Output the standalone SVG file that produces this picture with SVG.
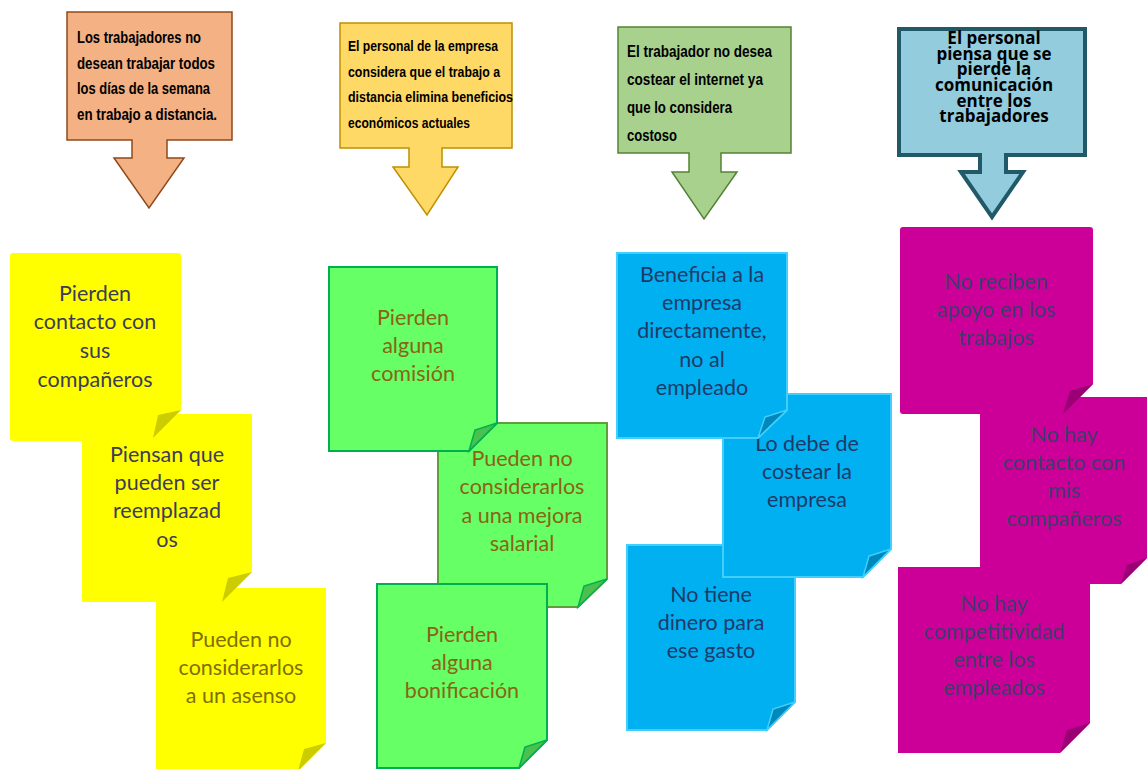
<svg xmlns="http://www.w3.org/2000/svg" width="1147" height="769" viewBox="0 0 1147 769">
<style>
.ct{font-family:"Liberation Sans Narrow","Liberation Sans",Arial,sans-serif;font-weight:bold;fill:#000}
.c4{font-family:"Open Sans","DejaVu Sans",sans-serif;font-weight:bold;font-size:17px;fill:#000;text-anchor:middle}
.nt{font-family:Lato,"Open Sans","Liberation Sans",sans-serif;font-size:21.5px;text-anchor:middle}
.y{fill:#FFFF00}
.yf{fill:#CCCC00}
.g{fill:#66FF66;stroke:#00B050;stroke-width:2}
.g2{fill:#66FF66;stroke:#5E9E3C;stroke-width:2}
.gf{fill:#4CC04C;stroke:#00B050;stroke-width:1.5}
.b{fill:#00B0F0;stroke:#40CFFF;stroke-width:2}
.bf{fill:#0088BB;stroke:#40CFFF;stroke-width:1.5}
.m{fill:#CC0099}
.mf{fill:#990073}
</style>
<rect width="1147" height="769" fill="#FFFFFF"/>

<g id="callout1">
<path d="M67,12 H232 V140 H167 V158 H184 L149,208 L114,158 H132 V140 H67 Z" fill="#F4B183" stroke="#8F4A1C" stroke-width="1.5"/>
<text class="ct" font-size="16"><tspan x="77" y="43" textLength="124" lengthAdjust="spacingAndGlyphs">Los trabajadores no</tspan><tspan x="77" y="69" textLength="138" lengthAdjust="spacingAndGlyphs">desean trabajar todos</tspan><tspan x="77" y="94" textLength="133" lengthAdjust="spacingAndGlyphs">los días de la semana</tspan><tspan x="77" y="120" textLength="140" lengthAdjust="spacingAndGlyphs">en trabajo a distancia.</tspan></text>
</g>

<g id="callout2">
<path d="M340,23 H512 V148 H442 V167 H458 L427,215 L393,167 H409 V148 H340 Z" fill="#FFD966" stroke="#BF9000" stroke-width="1.5"/>
<text class="ct" font-size="15"><tspan x="348" y="51" textLength="150" lengthAdjust="spacingAndGlyphs">El personal de la empresa</tspan><tspan x="348" y="77" textLength="152" lengthAdjust="spacingAndGlyphs">considera que el trabajo a</tspan><tspan x="348" y="102" textLength="165" lengthAdjust="spacingAndGlyphs">distancia elimina beneficios</tspan><tspan x="348" y="128" textLength="122" lengthAdjust="spacingAndGlyphs">económicos actuales</tspan></text>
</g>

<g id="callout3">
<path d="M618,27 H791 V153 H721 V172 H737 L704,219 L672,172 H689 V153 H618 Z" fill="#A9D18E" stroke="#548235" stroke-width="1.5"/>
<text class="ct" font-size="16"><tspan x="627" y="57" textLength="145" lengthAdjust="spacingAndGlyphs">El trabajador  no desea</tspan><tspan x="627" y="85" textLength="136" lengthAdjust="spacingAndGlyphs">costear el internet ya</tspan><tspan x="627" y="113" textLength="105" lengthAdjust="spacingAndGlyphs">que lo considera</tspan><tspan x="627" y="141" textLength="50" lengthAdjust="spacingAndGlyphs">costoso</tspan></text>
</g>

<g id="callout4">
<path d="M899,29 H1085 V155 H1006 V172 H1023 L992,217 L961,172 H980 V155 H899 Z" fill="#93CDDD" stroke="#215968" stroke-width="4"/>
<text class="c4"><tspan x="994" y="44">El personal</tspan><tspan x="994" y="59.5">piensa que se</tspan><tspan x="994" y="75">pierde la</tspan><tspan x="994" y="91">comunicación</tspan><tspan x="994" y="106.5">entre los</tspan><tspan x="994" y="121.5">trabajadores</tspan></text>
</g>

<!-- Column 1 -->
<g id="note1c">
<path class="y" d="M156,588 H326 V743 L298,771 H156 Z"/>
<path class="yf" d="M326,743 L298,771 L304,749 Z"/>
<text class="nt" fill="#7F6F00"><tspan x="241" y="647">Pueden no</tspan><tspan x="241" y="675">considerarlos</tspan><tspan x="241" y="703">a un asenso</tspan></text>
</g>
<g id="note1b">
<path class="y" d="M82,414 H252 V572 L222,602 H82 Z"/>
<path class="yf" d="M252,572 L222,602 L228,578 Z"/>
<text class="nt" fill="#3C3C58"><tspan x="167" y="462">Piensan que</tspan><tspan x="167" y="490">pueden ser</tspan><tspan x="167" y="518">reemplazad</tspan><tspan x="167" y="547">os</tspan></text>
</g>
<g id="note1a">
<path class="y" d="M13,253 H178 Q181,253 181,256 V410 L153,438 V441 H13 Q10,441 10,438 V256 Q10,253 13,253 Z"/>
<path class="yf" d="M181,410 L153,438 L158,415 Z"/>
<text class="nt" fill="#3C3C58"><tspan x="95" y="301">Pierden</tspan><tspan x="95" y="329">contacto con</tspan><tspan x="95" y="358">sus</tspan><tspan x="95" y="387">compañeros</tspan></text>
</g>

<!-- Column 2 -->
<g id="note2b">
<path class="g2" d="M438,423 H607 V579 L578,607 H438 Z"/>
<path class="gf" d="M607,579 L578,607 L584,586 Z"/>
<text class="nt" fill="#8A6414"><tspan x="522" y="466">Pueden no</tspan><tspan x="522" y="494">considerarlos</tspan><tspan x="522" y="523">a una mejora</tspan><tspan x="522" y="551">salarial</tspan></text>
</g>
<g id="note2a">
<path class="g" d="M329,267 H497 V423 L469,451 H329 Z"/>
<path class="gf" d="M497,423 L469,451 L475,430 Z"/>
<text class="nt" fill="#8A6414"><tspan x="413" y="325">Pierden</tspan><tspan x="413" y="353">alguna</tspan><tspan x="413" y="381">comisión</tspan></text>
</g>
<g id="note2c">
<path class="g" d="M377,584 H547 V740 L519,768 H377 Z"/>
<path class="gf" d="M547,740 L519,768 L525,747 Z"/>
<text class="nt" fill="#8A6414"><tspan x="462" y="642">Pierden</tspan><tspan x="462" y="670">alguna</tspan><tspan x="462" y="698">bonificación</tspan></text>
</g>

<!-- Column 3 -->
<g id="note3c">
<path class="b" d="M627,545 H795 V702 L767,730 H627 Z"/>
<path class="bf" d="M795,702 L767,730 L773,709 Z"/>
<text class="nt" fill="#1F3A68"><tspan x="711" y="602">No tiene</tspan><tspan x="711" y="630">dinero para</tspan><tspan x="711" y="658">ese gasto</tspan></text>
</g>
<g id="note3b">
<path class="b" d="M723,394 H891 V549 L863,577 H723 Z"/>
<path class="bf" d="M891,549 L863,577 L869,556 Z"/>
<text class="nt" fill="#1F3A68"><tspan x="807" y="451">Lo debe de</tspan><tspan x="807" y="479">costear la</tspan><tspan x="807" y="507">empresa</tspan></text>
</g>
<g id="note3a">
<path class="b" d="M617,253 H787 V410 L758,438 H617 Z"/>
<path class="bf" d="M787,410 L758,438 L765,417 Z"/>
<text class="nt" fill="#1F3A68"><tspan x="702" y="282">Beneficia a la</tspan><tspan x="702" y="310">empresa</tspan><tspan x="702" y="338">directamente,</tspan><tspan x="702" y="367">no al</tspan><tspan x="702" y="395">empleado</tspan></text>
</g>

<!-- Column 4 -->
<g id="note4b">
<path class="m" d="M980,397 H1149 V556 L1121,584 H980 Z"/>
<path class="mf" d="M1147,558 L1121,584 L1127,565 Z"/>
<text class="nt" fill="#3F3D6A"><tspan x="1064" y="442">No hay</tspan><tspan x="1064" y="470">contacto con</tspan><tspan x="1064" y="498">mis</tspan><tspan x="1064" y="526">compañeros</tspan></text>
</g>
<g id="note4c">
<path class="m" d="M898,567 H1090 V723 L1060,753 H898 Z"/>
<path class="mf" d="M1090,723 L1060,753 L1067,730 Z"/>
<text class="nt" fill="#3F3D6A"><tspan x="994" y="611">No hay</tspan><tspan x="994" y="639">competitividad</tspan><tspan x="994" y="667">entre los</tspan><tspan x="994" y="695">empleados</tspan></text>
</g>
<g id="note4a">
<path class="m" d="M903,227 H1090 Q1093,227 1093,230 V384 L1063,414 H903 Q900,414 900,411 V230 Q900,227 903,227 Z"/>
<path class="mf" d="M1093,384 L1063,414 L1070,391 Z"/>
<text class="nt" fill="#3F3D6A"><tspan x="996" y="289">No reciben</tspan><tspan x="996" y="317">apoyo en los</tspan><tspan x="996" y="345">trabajos</tspan></text>
</g>

<g id="connectors"></g>
</svg>
